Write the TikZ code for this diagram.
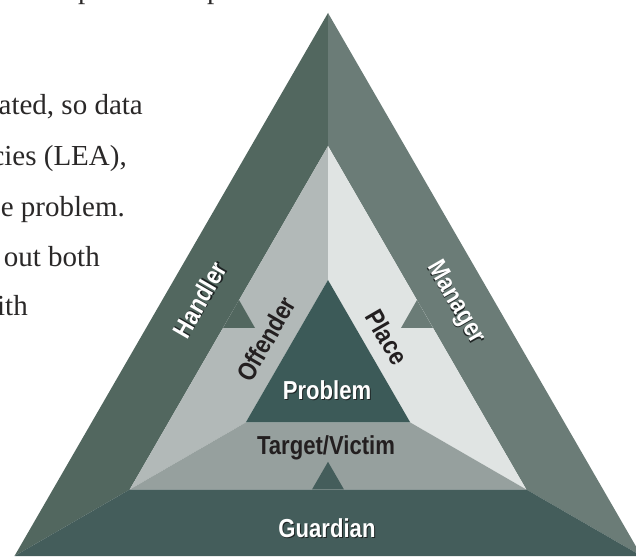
\documentclass[tikz,border=0pt]{standalone}
\usepackage{fontspec}
\setmainfont{Liberation Serif}
\newfontfamily\labelfont[FakeStretch=0.85]{Liberation Sans}
\definecolor{handlercol}{HTML}{52675F}
\definecolor{managercol}{HTML}{6B7C77}
\definecolor{guardiancol}{HTML}{445D5B}
\definecolor{offendercol}{HTML}{B2B9B8}
\definecolor{placecol}{HTML}{E0E4E3}
\definecolor{targetcol}{HTML}{96A09E}
\definecolor{problemcol}{HTML}{3C5A58}
\definecolor{labeldark}{HTML}{231F20}
\definecolor{shadowcol}{HTML}{1E2424}
\definecolor{bodycol}{HTML}{2A2828}
\newcommand{\shadowed}[1]{\rlap{\kern1pt\raisebox{-1pt}{\color{shadowcol}#1}}\textcolor{white}{#1}}
\begin{document}
\begin{tikzpicture}[x=1pt,y=1pt,
    lbl/.style={font={\labelfont\bfseries\fontsize{26}{26}\selectfont},inner sep=0pt},
    darklbl/.style={lbl,text=labeldark},
    body/.style={font={\fontsize{29}{29}\selectfont},text=bodycol,inner sep=0pt,anchor=base east}]
        \useasboundingbox(0,0)rectangle(636,556);
        \clip(0,0)rectangle(636,556);
        \fill[white](0,0)rectangle(636,556);
        % corners of the three triangles
        \coordinate(oT)at(328,543);
        \coordinate(oL)at(14.5,0);
        \coordinate(oR)at(641.5,0);
        \coordinate(mT)at(328,410);
        \coordinate(mL)at(129.7,66.5);
        \coordinate(mR)at(526.3,66.5);
        \coordinate(iT)at(328,276);
        \coordinate(iL)at(245.7,133.5);
        \coordinate(iR)at(410.3,133.5);
        % outer band
        \fill[handlercol](oT)--(mT)--(mL)--(oL)--cycle;
        \fill[managercol](oT)--(oR)--(mR)--(mT)--cycle;
        \fill[guardiancol](oL)--(mL)--(mR)--(oR)--cycle;
        % middle band
        \fill[offendercol](mT)--(iT)--(iL)--(mL)--cycle;
        \fill[placecol](mT)--(mR)--(iR)--(iT)--cycle;
        \fill[targetcol](mL)--(iL)--(iR)--(mR)--cycle;
        \fill[problemcol](iT)--(iL)--(iR)--cycle;
        % notches
        \fill[handlercol](239,256)--(223,228)--(255,228)--cycle;
        \fill[managercol](417,256)--(433,228)--(401,228)--cycle;
        \fill[guardiancol](312,66.5)--(344,66.5)--(328,94.2)--cycle;
        % labels
        \node[lbl,rotate=60](handler)at(200,256){\shadowed{Handler}};
        \node[lbl,rotate=-60](manager)at(455,253){\shadowed{Manager}};
        \node[darklbl,rotate=60](offender)at(266,217){Offender};
        \node[darklbl,rotate=-60](place)at(387,219){Place};
        \node[lbl,anchor=base](problem)at(327,156){\shadowed{Problem}};
        \node[darklbl,anchor=base](target)at(326,101){Target/Victim};
        \node[lbl,anchor=base](guardian)at(327,19){\shadowed{Guardian}};
        % cut text on the left
        \node[body,anchor=base west](tailA)at(78,557){p};
        \node[body,anchor=base west](tailB)at(207,557){p};
        \node[body](lineA)at(143,441){ated, so data};
        \node[body](lineB)at(127,390){cies (LEA),};
        \node[body](lineC)at(125,339){e problem.};
        \node[body](lineD)at(100,289){out both};
        \node[body](lineE)at(28,240){ith};
    \end{tikzpicture}
\end{document}
